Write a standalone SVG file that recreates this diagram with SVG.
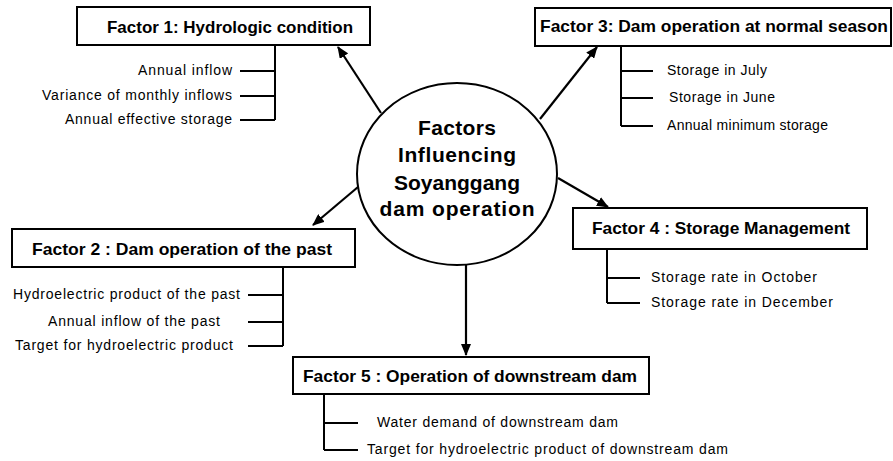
<svg xmlns="http://www.w3.org/2000/svg" width="893" height="461" viewBox="0 0 893 461">
<defs>
<marker id="ah" markerUnits="userSpaceOnUse" markerWidth="12" markerHeight="10" refX="11" refY="5" orient="auto">
<path d="M0,0 L12,5 L0,10 Z" fill="#000"/>
</marker>
<style>
.box{fill:#fff;stroke:#000;stroke-width:2}
.ln{fill:none;stroke:#000;stroke-width:2}
.arr{fill:none;stroke:#000;stroke-width:2.2;marker-end:url(#ah)}
.title{font-family:"Liberation Sans",Arial,sans-serif;font-weight:bold;font-size:17px;fill:#000}
.lab{font-family:"Liberation Sans",Arial,sans-serif;font-size:14px;fill:#000}
.ctr{font-family:"Liberation Sans",Arial,sans-serif;font-weight:bold;font-size:21px;fill:#000;text-anchor:middle}
</style>
</defs>
<rect width="893" height="461" fill="#fff"/>

<g id="center">
<ellipse cx="457" cy="174" rx="100" ry="91" class="ln"/>
<text class="ctr" x="457" y="135" textLength="78">Factors</text>
<text class="ctr" x="457" y="162" textLength="118">Influencing</text>
<text class="ctr" x="457" y="190" textLength="126">Soyanggang</text>
<text class="ctr" x="457" y="216" textLength="155">dam operation</text>
</g>

<g id="factor1">
<rect x="77" y="7" width="293" height="38" class="box"/>
<text class="title" x="107" y="33" textLength="246" lengthAdjust="spacingAndGlyphs">Factor 1: Hydrologic condition</text>
<path class="ln" d="M275,45 V120 M240,71 H275 M240,96 H275 M240,120 H275"/>
<text class="lab" x="138" y="75" textLength="94">Annual inflow</text>
<text class="lab" x="42" y="100" textLength="190">Variance of monthly inflows</text>
<text class="lab" x="65" y="124" textLength="167">Annual effective storage</text>
</g>

<g id="factor3">
<rect x="535" y="8" width="356" height="38" class="box"/>
<text class="title" x="540" y="32" textLength="348" lengthAdjust="spacingAndGlyphs">Factor 3: Dam operation at normal season</text>
<path class="ln" d="M621,46 V126 M621,71 H653 M621,98 H653 M621,126 H653"/>
<text class="lab" x="667" y="75" textLength="100">Storage in July</text>
<text class="lab" x="669" y="102" textLength="106">Storage in June</text>
<text class="lab" x="667" y="130" textLength="161">Annual minimum storage</text>
</g>

<g id="factor2">
<rect x="12" y="229" width="343" height="38" class="box"/>
<text class="title" x="32" y="255" textLength="300" lengthAdjust="spacingAndGlyphs">Factor 2 : Dam operation of the past</text>
<path class="ln" d="M283,267 V346 M248,295 H283 M248,322 H283 M248,346 H283"/>
<text class="lab" x="13" y="299" textLength="227">Hydroelectric product of the past</text>
<text class="lab" x="48" y="326" textLength="172">Annual inflow of the past</text>
<text class="lab" x="15" y="350" textLength="218">Target for hydroelectric product</text>
</g>

<g id="factor4">
<rect x="573" y="208" width="294" height="41" class="box"/>
<text class="title" x="592" y="234" textLength="258" lengthAdjust="spacingAndGlyphs">Factor 4 : Storage Management</text>
<path class="ln" d="M607,249 V303 M607,278 H640 M607,303 H640"/>
<text class="lab" x="651" y="282" textLength="166">Storage rate in October</text>
<text class="lab" x="651" y="307" textLength="182">Storage rate in December</text>
</g>

<g id="factor5">
<rect x="293" y="357" width="356" height="37" class="box"/>
<text class="title" x="303" y="382" textLength="334" lengthAdjust="spacingAndGlyphs">Factor 5 : Operation of downstream dam</text>
<path class="ln" d="M324,394 V450 M324,423 H358 M324,450 H358"/>
<text class="lab" x="377" y="427" textLength="241">Water demand of downstream dam</text>
<text class="lab" x="367" y="454" textLength="361">Target for hydroelectric product of downstream dam</text>
</g>

<g id="connectors">
<line class="arr" x1="381" y1="113" x2="338" y2="47"/>
<line class="arr" x1="540" y1="119" x2="597" y2="47"/>
<line class="arr" x1="358" y1="187" x2="313" y2="225"/>
<line class="arr" x1="558" y1="178" x2="608" y2="207"/>
<line class="arr" x1="466" y1="265" x2="466" y2="355"/>
</g>
</svg>
